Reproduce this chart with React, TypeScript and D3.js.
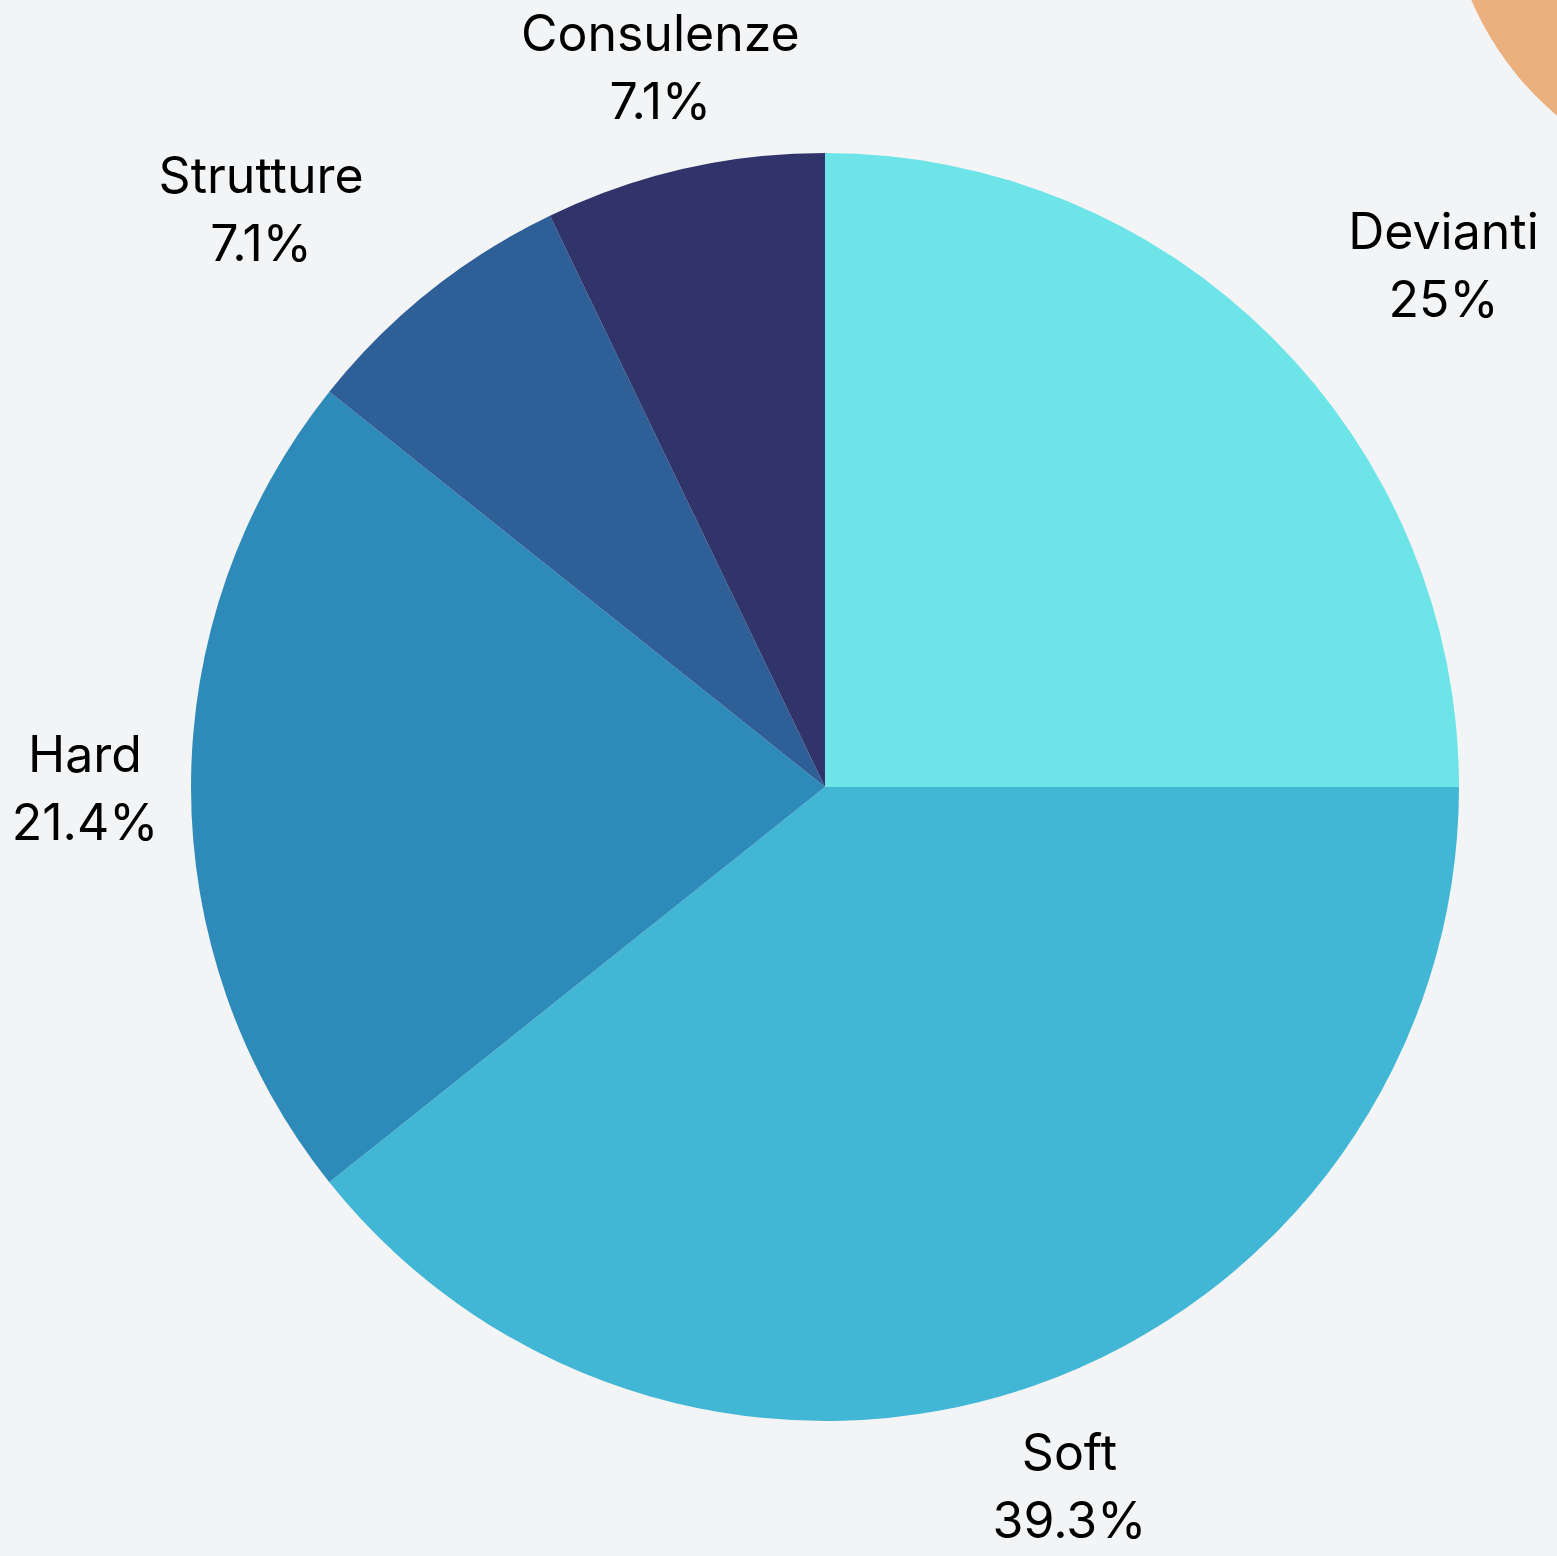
import React from "react";
import * as d3 from "d3";

const categories = ["Devianti", "Soft", "Hard", "Strutture", "Consulenze"];
const counts = [7, 11, 6, 2, 2];
const colors = ["#6ce4e8", "#42b6d5", "#2e8bb9", "#2e5f97", "#31346a"];

const W = 1557;
const H = 1556;
const CX = 825;
const CY = 787;
const R = 634;
const LABEL_R = 740;
const FONT = "Inter, 'Noto Sans', sans-serif";
const FONT_SIZE = 50;
const LINE_GAP = 68;

let ctx: CanvasRenderingContext2D | null = null;
function measure(t: string): number {
  if (!ctx) {
    const c = document.createElement("canvas");
    ctx = c.getContext("2d");
  }
  if (!ctx) return t.length * FONT_SIZE * 0.55;
  ctx.font = `${FONT_SIZE}px Inter, 'Noto Sans', sans-serif`;
  return ctx.measureText(t).width;
}

export default function App() {
  const total = d3.sum(counts);
  const pie = d3.pie<number>().sort(null).value((d) => d)(counts);
  const arc = d3.arc<d3.PieArcDatum<number>>().innerRadius(0).outerRadius(R);
  const fmt = d3.format(".1~f");

  return (
    <svg
      width={W}
      height={H}
      style={{ position: "absolute", left: 0, top: 0, display: "block" }}
    >
      <rect x={0} y={0} width={W} height={H} fill="#f3f4f6" />
      <circle cx={1758} cy={-123} r={312} fill="#ebb07d" />
      <g transform={`translate(${CX},${CY})`}>
        {pie.map((p, i) => (
          <path key={i} d={arc(p) || ""} fill={colors[i]} />
        ))}
        {pie.map((p, i) => {
          const a = (p.startAngle + p.endAngle) / 2;
          const s = Math.sin(a);
          const c = Math.cos(a);
          const x = LABEL_R * s;
          const y = -LABEL_R * c;
          const l1 = categories[i];
          const l2 = fmt((counts[i] / total) * 100) + "%";
          const w = Math.max(measure(l1), measure(l2));
          const mode =
            Math.abs(c) > 0.9 || Math.abs(s) > 0.99 ? 0 : s > 0 ? 1 : -1;
          const tx = x + (mode * w) / 2;
          return (
            <text
              key={"l" + i}
              textAnchor="middle"
              fontFamily={FONT}
              fontSize={FONT_SIZE}
              fill="#000"
            >
              <tspan x={tx} y={y - 15}>{l1}</tspan>
              <tspan x={tx} y={y - 15 + LINE_GAP}>{l2}</tspan>
            </text>
          );
        })}
      </g>
    </svg>
  );
}
